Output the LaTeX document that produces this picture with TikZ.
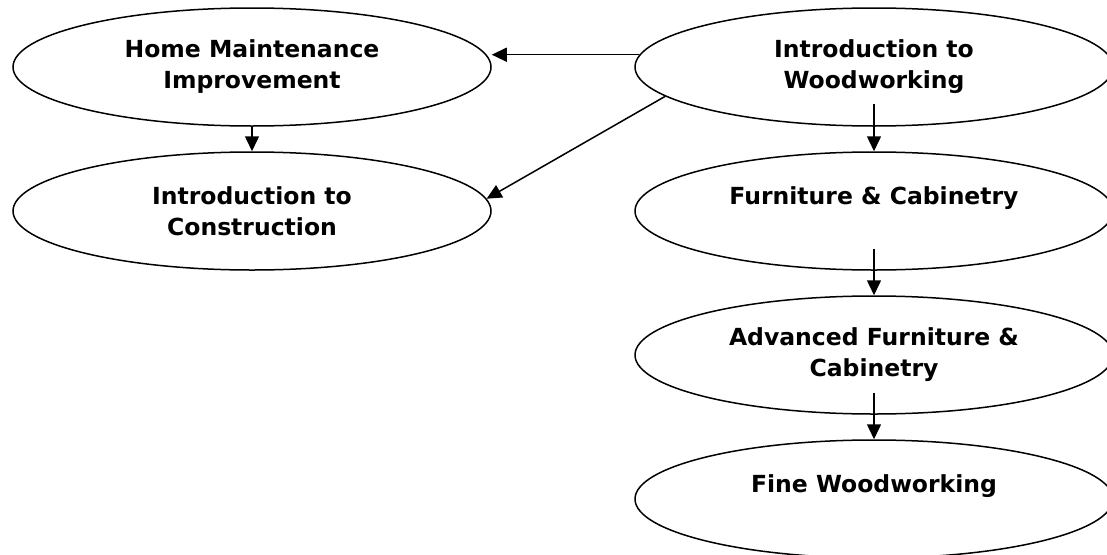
\documentclass[tikz,border=0pt]{standalone}
\usepackage{fontspec}
\setmainfont{DejaVu Sans}
\usetikzlibrary{shapes,arrows.meta,positioning}
\tikzset{
    course/.style={ellipse,draw,line width=1.5pt,inner sep=0pt,minimum width=478pt,minimum height=118pt,align=center,font=\fontsize{23.5}{31}\selectfont\bfseries},
}

\begin{document}
\begin{tikzpicture}[x=1pt,y=-1pt,->,>={Triangle[length=15pt,width=14pt]},line width=1.5pt,node distance=144pt]
            \useasboundingbox (0,0) rectangle (1107,554);
            \node[course] (hmi) at (252,67) {Home Maintenance\\Improvement};
            \node[course] (ic) [below of = hmi]{Introduction to\\Construction};
            \node[course] (iw) [right of = hmi, xshift=478pt]{Introduction to\\Woodworking};
            \node[course] (fc) [below of = iw]{Furniture \& Cabinetry\\\mbox{}};
            \node[course] (afc) [below of = fc]{Advanced Furniture \&\\Cabinetry};
            \node[course] (fw) [below of = afc]{Fine Woodworking\\\mbox{}};

            \path
                (iw.177) edge (hmi.east |- iw.177)
                (iw.188) edge (ic.3)
                (hmi.south) edge (ic.north)
                ([yshift=23pt]iw.south) edge (fc.north)
                ([yshift=22pt]fc.south) edge (afc.north)
                ([yshift=22pt]afc.south) edge (fw.north)
                ;
        \end{tikzpicture}
\end{document}
